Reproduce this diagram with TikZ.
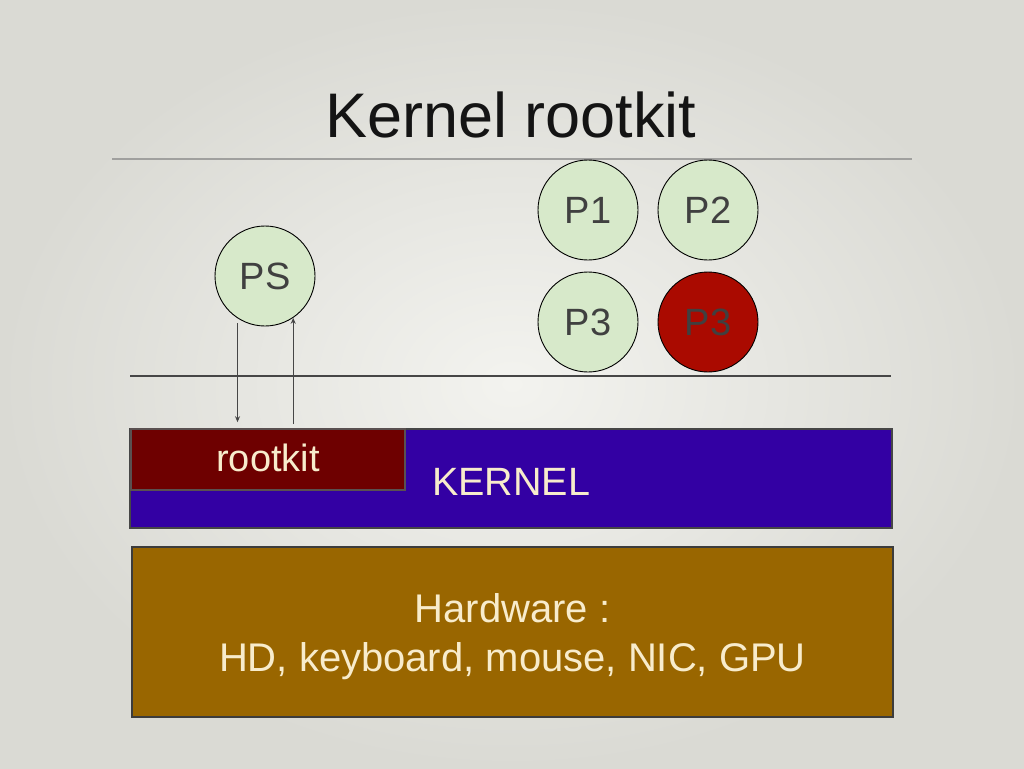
\documentclass[tikz,border=0pt]{standalone}
\usepackage{fontspec}
\setmainfont{Liberation Sans}
\usetikzlibrary{arrows.meta}
\definecolor{bgin}{RGB}{243,243,239}
\definecolor{bgout}{RGB}{218,218,212}
\definecolor{circfill}{RGB}{215,233,202}
\definecolor{redfill}{RGB}{170,10,0}
\definecolor{kernfill}{RGB}{51,0,163}
\definecolor{rkfill}{RGB}{110,0,0}
\definecolor{hwfill}{RGB}{153,102,0}
\definecolor{cream}{RGB}{248,236,204}
\definecolor{dtext}{RGB}{64,64,64}
\definecolor{edge}{RGB}{70,70,70}
\tikzset{
  proc/.style={circle, draw=black, line width=0.9pt, fill=circfill, minimum size=100pt, inner sep=0pt,
    text=dtext, font=\fontsize{38}{40}\selectfont},
  layer/.style={draw=edge, line width=1.6pt, inner sep=0pt, text=cream, font=\fontsize{40}{49}\selectfont},
  arr/.style={draw=edge, line width=1.1pt, -{Stealth[length=6pt,width=5pt]}},
  sep/.style={line width=1.8pt, draw=edge}
}
\begin{document}
\begin{tikzpicture}[x=1pt,y=-1pt]
\useasboundingbox (0,0) rectangle (1024,768);
\shade[inner color=bgin, outer color=bgout] (0,0) rectangle (1024,768);
% title
\node[anchor=base, font=\fontsize{63}{66}\selectfont, text={rgb,255:red,20;green,20;blue,20}] (title) at (511,137) {Kernel rootkit};
\coordinate (t1) at (112,159);
\coordinate (t2) at (912,159);
\draw[line width=1.3pt, draw={rgb,255:red,160;green,160;blue,158}] (t1) -- (t2);
% processes
\node[proc] (p1) at (588,210) {P1};
\node[proc] (p2) at (708,210) {P2};
\node[proc] (p3) at (588,322) {P3};
\node[proc, fill=redfill] (p3r) at (708,322) {P3};
\node[proc] (ps) at (265,276) {PS};
% user/kernel separator
\coordinate (s1) at (130,376);
\coordinate (s2) at (891,376);
\draw[sep] (s1) -- (s2);
% kernel
\node[layer, fill=kernfill, minimum width=762pt, minimum height=99pt] (kernel) at (511,478.5) {};
\node[anchor=base west, text=cream, font=\fontsize{39.5}{40}\selectfont, inner sep=0pt] (ktext) at (432,495) {KERNEL};
\node[layer, fill=rkfill, minimum width=274pt, minimum height=61pt, draw={rgb,255:red,90;green,80;blue,80}, font=\fontsize{38}{40}\selectfont] (rootkit) at (268,459.5) {\raisebox{3pt}{rootkit}};
% hardware
\node[layer, fill=hwfill, minimum width=761pt, minimum height=170pt, draw={rgb,255:red,60;green,60;blue,60}] (hw) at (512.5,632) {\raisebox{-5pt}[\height][\depth]{\parbox{700pt}{\centering Hardware :\\HD, keyboard, mouse, NIC, GPU}}};
% arrows
\draw[arr, shorten <=5pt, shorten >=6pt] (ps.-123) -- (ps.-123 |- rootkit.north);
\draw[arr, shorten <=4pt] (ps.-56 |- rootkit.north) -- (ps.-56);
\end{tikzpicture}
\end{document}
